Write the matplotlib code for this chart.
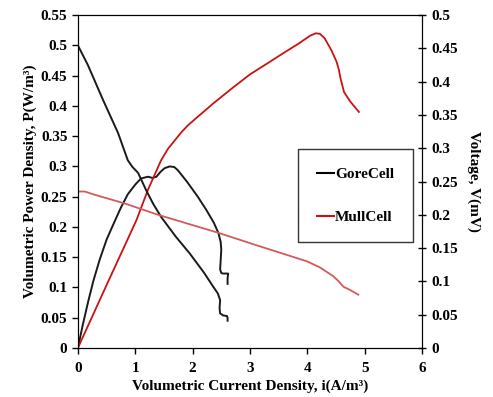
import matplotlib.pyplot as plt

plt.rcParams['font.family'] = 'Liberation Serif'
plt.rcParams['font.weight'] = 'bold'

# GoreCell power density (W/m3) vs current density (A/m3)
gore_i_p = [0, 0.08, 0.18, 0.27, 0.38, 0.5, 0.64, 0.75, 0.87, 1.0, 1.1, 1.22, 1.3, 1.37,
            1.44, 1.51, 1.6, 1.68, 1.74, 1.9, 2.09, 2.24, 2.37, 2.45, 2.49, 2.5, 2.48,
            2.5, 2.53, 2.62, 2.61, 2.61]
gore_p = [0, 0.036, 0.077, 0.111, 0.146, 0.179, 0.209, 0.232, 0.254, 0.27, 0.28, 0.283, 0.281,
          0.283, 0.291, 0.297, 0.3, 0.299, 0.294, 0.275, 0.25, 0.228, 0.207, 0.19, 0.175,
          0.162, 0.13, 0.124, 0.123, 0.123, 0.115, 0.106]

# GoreCell voltage (right axis)
gore_i_v = [0, 0.174, 0.436, 0.7, 0.87, 0.95, 1.05, 1.19, 1.31, 1.45, 1.7, 1.95, 2.2,
            2.36, 2.44, 2.48, 2.47, 2.48, 2.53, 2.6, 2.61, 2.61]
gore_v = [0.4545, 0.425, 0.373, 0.323, 0.282, 0.272, 0.263, 0.237, 0.217, 0.197, 0.168,
          0.142, 0.113, 0.092, 0.082, 0.072, 0.06, 0.052, 0.049, 0.048, 0.045, 0.041]

# MullCell power density
mull_i_p = [0, 0.5, 1.02, 1.22, 1.45, 1.57, 1.69, 1.8, 1.92, 2.09, 2.36, 2.7, 3.0, 3.3,
            3.58, 3.85, 4.05, 4.15, 4.22, 4.3, 4.42, 4.51, 4.55, 4.58, 4.64, 4.75, 4.9]
mull_p = [0, 0.104, 0.211, 0.261, 0.31, 0.329, 0.343, 0.356, 0.368, 0.382, 0.404, 0.43,
          0.452, 0.47, 0.487, 0.503, 0.516, 0.52, 0.519, 0.512, 0.492, 0.473, 0.46, 0.445,
          0.423, 0.407, 0.39]

# MullCell voltage (right axis)
mull_i_v = [0, 0.12, 0.3, 0.82, 1.4, 2.45, 3.09, 4.0, 4.22, 4.45, 4.55, 4.63, 4.75, 4.89]
mull_v = [0.235, 0.235, 0.23, 0.217, 0.2, 0.173, 0.155, 0.13, 0.121, 0.108, 0.1, 0.092,
          0.087, 0.08]

x_ticks = [0, 1, 2, 3, 4, 5, 6]
left_ticks = ['0', '0.05', '0.1', '0.15', '0.2', '0.25', '0.3', '0.35', '0.4', '0.45',
              '0.5', '0.55']
right_ticks = ['0', '0.05', '0.1', '0.15', '0.2', '0.25', '0.3', '0.35', '0.4', '0.45',
               '0.5']

fig = plt.figure(figsize=(4.93, 3.97), dpi=100)
ax = fig.add_axes([0.158, 0.1234, 0.698, 0.8386])
ax2 = ax.twinx()

ax.plot(gore_i_p, gore_p, color='#1a1a1a', lw=1.4)
ax.plot(mull_i_p, mull_p, color='#cc1111', lw=1.3)
ax2.plot(gore_i_v, gore_v, color='#1a1a1a', lw=1.4)
ax2.plot(mull_i_v, mull_v, color='#d45a5a', lw=1.3)

ax.set_xlim(0, 6)
ax.set_ylim(0, 0.55)
ax2.set_ylim(0, 0.5)
ax.set_xticks(x_ticks)
ax.set_yticks([i * 0.05 for i in range(len(left_ticks))])
ax.set_yticklabels(left_ticks)
ax2.set_yticks([i * 0.05 for i in range(len(right_ticks))])
ax2.set_yticklabels(right_ticks)

for a in (ax, ax2):
    a.tick_params(labelsize=11, length=4, width=1)
ax.tick_params(axis='x', pad=6)
ax2.tick_params(direction='inout', length=6)

ax.set_xlabel('Volumetric Current Density, i(A/m³)', fontsize=11, fontweight='bold', labelpad=3)
ax.set_ylabel('Volumetric Power Density, P(W/m³)', fontsize=11, fontweight='bold', labelpad=3)
ax2.set_ylabel('Voltage, V(mV)', fontsize=11, fontweight='bold', rotation=270, labelpad=16)

ax.plot([], [], color='black', label='GoreCell')
ax.plot([], [], color='#cc1111', label='MullCell')
h, l = ax.get_legend_handles_labels()
leg = ax.legend(h[-2:], l[-2:], loc='upper left', bbox_to_anchor=(0.641, 0.597),
                frameon=True, fancybox=False, edgecolor='black',
                handlelength=1.1, handletextpad=0.1, labelspacing=1.9,
                borderpad=1.2, borderaxespad=0, prop={'weight': 'bold', 'size': 11})
leg.get_frame().set_linewidth(1.0)

fig.savefig('out.png', dpi=100)
